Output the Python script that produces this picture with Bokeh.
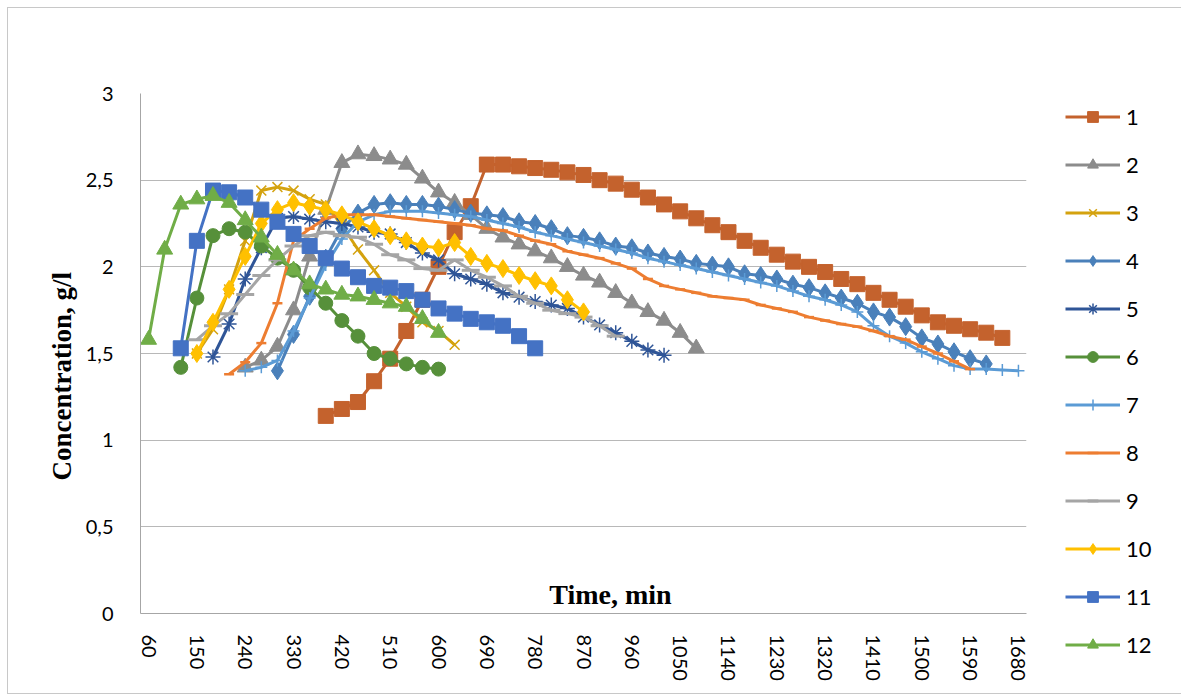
import math
from bokeh.plotting import figure
from bokeh.models import FixedTicker, Label, Legend, LegendItem, Title
from bokeh.embed import file_html
from bokeh.resources import INLINE

# ---- data (minutes on a 30-min grid, concentration g/l) ----
x_ticks = [60, 150, 240, 330, 420, 510, 600, 690, 780, 870, 960, 1050, 1140,
           1230, 1320, 1410, 1500, 1590, 1680]
y_ticks = [0, 0.5, 1, 1.5, 2, 2.5, 3]
y_tick_labels = ["0", "0,5", "1", "1,5", "2", "2,5", "3"]
series_names = ["1", "2", "3", "4", "5", "6", "7", "8", "9", "10", "11", "12"]
start_minutes = [390, 240, 150, 300, 180, 120, 240, 210, 150, 150, 120, 60]
step_minutes = 30

s1 = [1.14, 1.18, 1.22, 1.34, 1.47, 1.63, 1.81, 2.00, 2.20, 2.35, 2.59, 2.59, 2.58, 2.57,
      2.56, 2.545, 2.53, 2.50, 2.48, 2.445, 2.40, 2.36, 2.32, 2.28, 2.24, 2.20, 2.15, 2.11,
      2.07, 2.03, 2.00, 1.97, 1.93, 1.90, 1.85, 1.81, 1.77, 1.72, 1.68, 1.66, 1.64, 1.62, 1.59]
s2 = [1.42, 1.46, 1.54, 1.75, 2.06, 2.33, 2.60, 2.65, 2.64, 2.62, 2.59, 2.51, 2.43, 2.37,
      2.30, 2.22, 2.17, 2.13, 2.09, 2.05, 2.00, 1.95, 1.91, 1.85, 1.79, 1.74, 1.69, 1.62, 1.53]
s3 = [1.50, 1.64, 1.87, 2.15, 2.44, 2.46, 2.44, 2.39, 2.36, 2.24, 2.10, 1.98, 1.85, 1.77,
      1.68, 1.63, 1.55]
s4 = [1.40, 1.61, 1.83, 2.05, 2.22, 2.31, 2.36, 2.37, 2.36, 2.36, 2.35, 2.33, 2.31, 2.30,
      2.29, 2.26, 2.25, 2.22, 2.18, 2.17, 2.15, 2.12, 2.11, 2.08, 2.06, 2.045, 2.02, 2.01,
      2.00, 1.96, 1.95, 1.93, 1.90, 1.88, 1.85, 1.82, 1.79, 1.74, 1.71, 1.655, 1.59, 1.555,
      1.51, 1.47, 1.44]
s5 = [1.48, 1.67, 1.93, 2.11, 2.28, 2.29, 2.275, 2.26, 2.25, 2.23, 2.20, 2.19, 2.14, 2.08,
      2.04, 1.96, 1.93, 1.90, 1.85, 1.825, 1.80, 1.78, 1.76, 1.71, 1.665, 1.62, 1.57, 1.52, 1.49]
s6 = [1.42, 1.82, 2.18, 2.22, 2.20, 2.12, 2.05, 1.98, 1.88, 1.79, 1.69, 1.60, 1.50, 1.47,
      1.44, 1.42, 1.41]
s7 = [1.40, 1.42, 1.46, 1.63, 1.82, 2.01, 2.16, 2.26, 2.30, 2.32, 2.32, 2.32, 2.31, 2.30,
      2.29, 2.27, 2.25, 2.23, 2.20, 2.18, 2.16, 2.14, 2.12, 2.10, 2.08, 2.05, 2.03, 2.01,
      1.99, 1.97, 1.95, 1.93, 1.91, 1.89, 1.86, 1.83, 1.81, 1.78, 1.74, 1.66, 1.60, 1.56,
      1.51, 1.47, 1.43, 1.41, 1.41, 1.405, 1.40]
s8 = [1.38, 1.45, 1.56, 1.79, 2.15, 2.22, 2.28, 2.30, 2.30, 2.30, 2.29, 2.28, 2.27, 2.26,
      2.25, 2.24, 2.22, 2.21, 2.18, 2.15, 2.13, 2.09, 2.07, 2.05, 2.02, 1.99, 1.93, 1.89,
      1.87, 1.85, 1.83, 1.82, 1.81, 1.78, 1.76, 1.74, 1.71, 1.69, 1.67, 1.655, 1.63, 1.60,
      1.58, 1.54, 1.50, 1.455, 1.41]
s9 = [1.58, 1.66, 1.73, 1.84, 1.95, 2.04, 2.12, 2.18, 2.20, 2.18, 2.17, 2.13, 2.07, 2.04,
      1.99, 1.98, 2.04, 1.98, 1.94, 1.89, 1.83, 1.79, 1.75, 1.73, 1.71, 1.66, 1.60]
s10 = [1.50, 1.68, 1.87, 2.06, 2.25, 2.33, 2.37, 2.35, 2.33, 2.30, 2.26, 2.22, 2.18, 2.15,
       2.12, 2.11, 2.14, 2.06, 2.02, 1.99, 1.95, 1.92, 1.89, 1.81, 1.74]
s11 = [1.53, 2.15, 2.44, 2.43, 2.40, 2.33, 2.26, 2.19, 2.12, 2.05, 1.99, 1.94, 1.89, 1.88,
       1.86, 1.81, 1.76, 1.73, 1.70, 1.68, 1.66, 1.60, 1.53]
s12 = [1.58, 2.10, 2.36, 2.39, 2.41, 2.37, 2.27, 2.17, 2.07, 1.98, 1.90, 1.87, 1.84, 1.83,
       1.81, 1.79, 1.77, 1.70, 1.62]

series_values = [s1, s2, s3, s4, s5, s6, s7, s8, s9, s10, s11, s12]

# ---- styles ----
colors = ["#C4622D", "#8C8C8C", "#D4A20E", "#4A80BA", "#2F5597", "#56903A",
          "#5B9BD5", "#ED7D31", "#A5A5A5", "#FFC000", "#4472C4", "#70AD47"]
markers = ["square", "triangle", "x", "diamond", "asterisk", "circle",
           "cross", "dash", "dash", "diamond", "square", "triangle"]
msizes = [15, 16, 14, 18, 15, 14, 12, 10, 18, 18, 15, 16]
filled = [True, True, False, True, False, True, False, False, False, True, True, True]
mlw = [1, 1, 1.5, 1, 1.5, 1, 1.5, 2.5, 3, 1, 1, 1]

p = figure(x_range=(45, 1695), y_range=(0, 3),
           frame_width=886, frame_height=520,
           min_border_left=132, min_border_right=148,
           min_border_top=85, min_border_bottom=80,
           output_backend="svg", toolbar_location=None)
p.styles = {"border": "1px solid #C8C8C8", "margin-left": "7px", "margin-top": "7px"}
p.outline_line_color = None
p.background_fill_color = "white"
p.border_fill_color = "white"

p.xgrid.visible = False
p.ygrid.grid_line_color = "#B8B8B8"
p.ygrid.grid_line_width = 1
p.ygrid.ticker = FixedTicker(ticks=y_ticks)

p.xaxis.ticker = FixedTicker(ticks=x_ticks)
p.xaxis.major_label_orientation = "vertical"
p.xaxis.major_label_standoff = 15
p.yaxis.ticker = FixedTicker(ticks=y_ticks)
p.yaxis.major_label_overrides = {t: s for t, s in zip(y_ticks, y_tick_labels)}
p.yaxis.major_label_standoff = 21
for ax in (p.xaxis, p.yaxis):
    ax.axis_line_color = "#A6A6A6"
    ax.axis_line_width = 1
    ax.major_tick_line_color = None
    ax.minor_tick_line_color = None
    ax.major_label_text_font = "Lato"
    ax.major_label_text_font_size = "20px"
    ax.major_label_text_color = "#000000"

items = []
for name, t0, vals, c, m, ms, f, lw in zip(series_names, start_minutes, series_values,
                                          colors, markers, msizes, filled, mlw):
    xs = [t0 + step_minutes * i for i in range(len(vals))]
    lr = p.line(xs, vals, line_color=c, line_width=3)
    sr = p.scatter(xs, vals, marker=m, size=ms, line_color=c, line_width=lw,
                   fill_color=c if f else None)
    items.append(LegendItem(label=name, renderers=[lr, sr]))

legend = Legend(items=items, location=(39, -45),
                glyph_width=55, glyph_height=27, label_height=27,
                spacing=21, padding=5, margin=0, label_standoff=6,
                label_text_font="Lato", label_text_font_size="22px",
                label_text_color="#000000",
                border_line_color=None, background_fill_alpha=0)
p.add_layout(legend, "right")

ytitle = Title(text="Concentration, g/l", align="left", offset=133, standoff=12,
               text_font="Liberation Serif", text_font_style="bold",
               text_font_size="27px", text_color="#000000")
p.add_layout(ytitle, "left")

xlab = Label(x=470, y=4, x_units="screen", y_units="screen",
             text="Time, min", text_align="center", text_baseline="bottom",
             text_font="Liberation Serif", text_font_style="bold",
             text_font_size="28px", text_color="#000000")
p.add_layout(xlab)

open("out.html", "w").write(file_html(p, INLINE))
